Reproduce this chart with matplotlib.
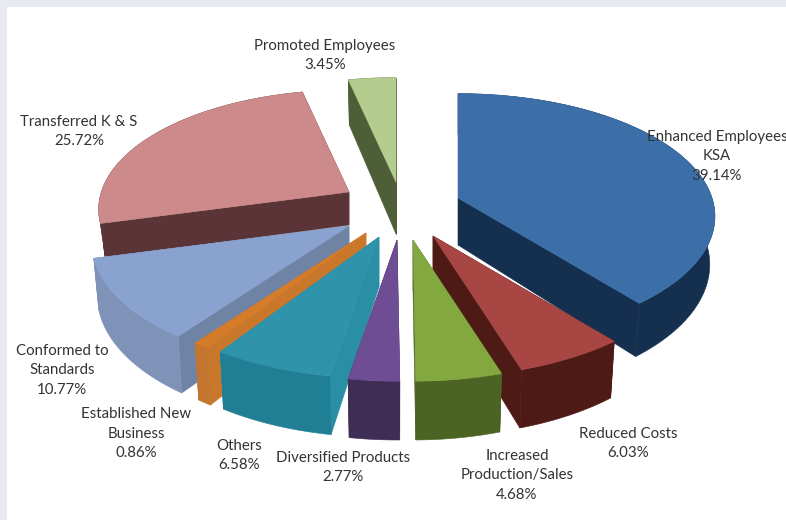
import numpy as np
import matplotlib.pyplot as plt
from matplotlib.patches import Polygon, Rectangle

names = ['Enhanced Employees\nKSA', 'Reduced Costs', 'Increased\nProduction/Sales',
         'Diversified Products', 'Others', 'Established New\nBusiness',
         'Conformed to\nStandards', 'Transferred K & S', 'Promoted Employees']
values = [39.14, 6.03, 4.68, 2.77, 6.58, 0.86, 10.77, 25.72, 3.45]

# how far each slice is pulled out of the pie centre
offsets = [(61, -32), (36, 6), (16, 10), (0, 10), (-18, 7), (-31, 3), (-48, -4), (-48, -38), (-1, -48)]
depth_scale = [0.94, 1, 1, 1, 1, 1, 1, 0.66, 1.04]
radius_scale = [1, 1, 1, 1, 1, 1, 1, 0.975, 1]

top_colors = ['#3c6fa8', '#a84644', '#84a840', '#6e4d94', '#2f93ab', '#d47c2a', '#8aa2cf', '#cd8a8a', '#b4cd8e']
side_colors = ['#15304f', '#4e1a16', '#4b6424', '#3e2d54', '#217f95', '#c4752f', '#7f93b8', '#5a3437', '#4e5f38']
wall_colors = ['#15304f', '#4e1a16', '#4b6424', '#3e2d54', '#2a8ea4', '#c9772b', '#6f83a5', '#5a3437', '#4e5f38']

label_pos = [(717, 156.5), (628, 443.5), (517, 475.5), (343, 467.5), (239, 455.5),
             (136, 433.5), (62, 370.5), (79, 131.5), (325, 55.5)]

cx, cy = 397, 230
rx, ry = 254, 120
persp = 0.15
depth = 50

draw_order = [8, 0, 7, 6, 5, 4, 1, 2, 3]


def project(theta, i, r=1.0, lower=False):
    u = r * radius_scale[i] * np.sin(theta)
    v = r * radius_scale[i] * np.cos(theta)
    w = 1 + persp * v
    shrink = 0.98 if lower else 1.0
    x = cx + offsets[i][0] + shrink * rx * u / w
    y = cy + offsets[i][1] - ry * v / w
    if lower:
        y = y + depth * depth_scale[i] / w
    return np.column_stack([x, y])


fig = plt.figure(figsize=(7.86, 5.2), dpi=100, facecolor='white')
ax = fig.add_axes([0, 0, 1, 1])
ax.set_xlim(0, 786)
ax.set_ylim(520, 0)
ax.axis('off')

# pale frame along the top and left
ax.add_patch(Rectangle((0, 0), 786, 7, color='#e8eaf2', lw=0))
ax.add_patch(Rectangle((0, 0), 7, 520, color='#e8eaf2', lw=0))

edges = np.concatenate([[0], np.cumsum(values)]) / sum(values) * 2 * np.pi

for i in draw_order:
    t = np.linspace(edges[i], edges[i + 1], 80)
    top_apex = project(np.array([0.0]), i, r=0.0)
    low_apex = project(np.array([0.0]), i, r=0.0, lower=True)
    top_arc = project(t, i)
    low_arc = project(t, i, lower=True)

    # radial walls, then rim, then the top face
    for k in (0, -1):
        wall = np.vstack([top_apex, top_arc[k], low_arc[k], low_apex])
        ax.add_patch(Polygon(wall, fc=wall_colors[i], ec=wall_colors[i], lw=0.4))
    rim = np.vstack([top_arc, low_arc[::-1]])
    ax.add_patch(Polygon(rim, fc=side_colors[i], ec=side_colors[i], lw=0.4))
    top = np.vstack([top_apex, top_arc])
    ax.add_patch(Polygon(top, fc=top_colors[i], ec=top_colors[i], lw=0.4))

for name, val, (lx, ly) in zip(names, values, label_pos):
    ax.text(lx, ly, f'{name}\n{val:.2f}%', ha='center', va='center', ma='center',
            family='Lato', fontsize=10.8, color='#333333', linespacing=1.5, clip_on=True)

fig.savefig('out.png', dpi=100)
